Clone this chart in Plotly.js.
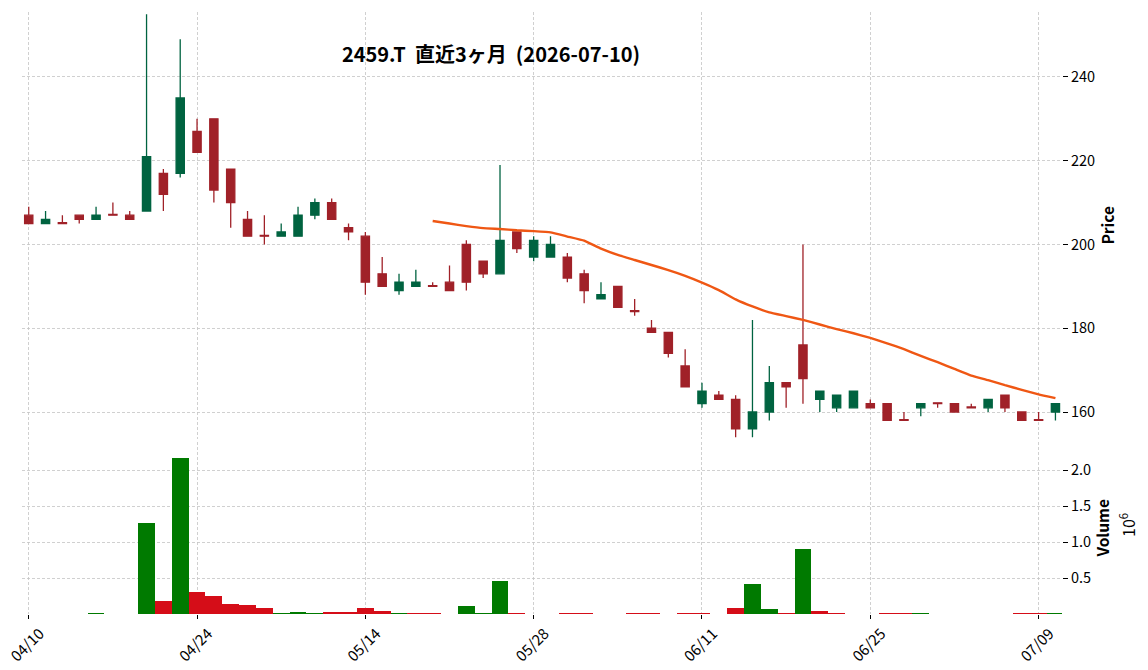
<!DOCTYPE html>
<html>
<head>
<meta charset="utf-8">
<script src="https://cdn.plot.ly/plotly-3.0.1.min.js"></script>
<style>html,body{margin:0;padding:0;background:#fff;}#chart{width:1148px;height:670px;}</style>
</head>
<body>
<div id="chart"></div>
<script>
const dates = ['04/10','04/13','04/14','04/15','04/16','04/17','04/20','04/21','04/22','04/23','04/24','04/27','04/28','04/30',
  '05/01','05/07','05/08','05/11','05/12','05/13','05/14','05/15','05/18','05/19','05/20','05/21','05/22','05/25','05/26','05/27','05/28','05/29',
  '06/01','06/02','06/03','06/04','06/05','06/08','06/09','06/10','06/11','06/12','06/15','06/16','06/17','06/18','06/19','06/22','06/23','06/24','06/25','06/26','06/29','06/30',
  '07/01','07/02','07/03','07/06','07/07','07/08','07/09','07/10'];

const openP  = [207,205,205.2,207,206,207.2,207,208,217,217,227,230,218,206,202.2,202,202,207,210,204,202,193,189,190,190.2,191,200,196,193,203,197,197,
  197,193,187,190,184.2,180,179,171,162,164,163,156,160,167,176,163,161,161,162,162,158.2,161,162.2,162,161.2,161,164,160,158.2,160];
const highP  = [209,208,207,207,209,210,208,255,218,249,230,230,218,208,207,205,209,211,211,205,203,197,193,194,191,195,201,196,219,203,202,202,
  198,194,191,190,187,182,179,175,167,165,164,182,171,167,200,165,164,165,163,162,160,162,162.2,162,162,163,164,160,160,162];
const lowP   = [205,205,205,205,206,207,206,208,208,216,222,210,204,202,200,202,202,206,206,201,188,190,188,190,190,189,189,192,193,198,196,197,
  191,186,187,185,183,179,173,166,161,163,154,154,158,161,162,160,160,161,161,158,158,159,161,160,161,160,160,158,158,158];
const closeP = [205,206,205,206,207,207,206,221,212,235,222,213,210,202,202,203,207,210,206,203,191,190,191,191,190,189,191,193,201,199,201,200,
  192,189,188,185,184,179,174,166,165,163,156,160,167,166,168,165,164,165,161,158,158,162,162,160,161,163,161,158,158,162];
// volume in millions (10^6)
const volume = [0.002,0.002,0.002,0.002,0.012,0.002,0.002,1.26,0.18,2.17,0.31,0.25,0.14,0.125,0.083,0.012,0.028,0.012,0.028,0.028,0.083,0.042,0.012,0.01,0.01,0.002,0.11,0.012,0.46,0.01,0.002,0.002,
  0.01,0.01,0.002,0.002,0.02,0.01,0.002,0.02,0.01,0.002,0.08,0.41,0.065,0.01,0.90,0.037,0.01,0.002,0.002,0.008,0.008,0.02,0.002,0.002,0.002,0.002,0.002,0.02,0.01,0.02];
// 25-day moving average line (starts at 05/20)
const maDates = dates.slice(24);
const maValues = [205.6,205.0,204.4,203.9,203.7,203.4,203.2,202.9,201.9,200.9,199.0,197.5,196.3,195.1,193.9,192.5,190.9,189.1,186.9,185.2,
  183.8,182.9,182.0,180.9,179.8,178.8,177.7,176.4,175.0,173.4,171.9,170.3,168.7,167.6,166.4,165.3,164.2,163.3];

const tickDates = ['04/10','04/24','05/14','05/28','06/11','06/25','07/09'];
const priceTicks = [160,180,200,220,240];
const volTicks = [0.5,1.0,1.5,2.0];
const volTickText = ['0.5','1.0','1.5','2.0'];

const UP = '#006340', DOWN = '#a02128';
const VUP = '#007a00', VDOWN = '#d50d18';
const volColors = volume.map((v,i) => (i > 0 && closeP[i] > closeP[i-1]) ? VUP : VDOWN);

const FONT = '"Noto Sans CJK JP", "Noto Sans", sans-serif';
const GRID = '#c4c4c4';
const DASH = '3px,2px';

const traces = [
  {
    type: 'candlestick', x: dates, open: openP, high: highP, low: lowP, close: closeP,
    xaxis: 'x', yaxis: 'y',
    increasing: {line: {color: UP, width: 1.3}, fillcolor: UP},
    decreasing: {line: {color: DOWN, width: 1.3}, fillcolor: DOWN},
    whiskerwidth: 0, hoverinfo: 'skip', showlegend: false
  },
  {
    type: 'scatter', mode: 'lines', x: maDates, y: maValues, xaxis: 'x', yaxis: 'y',
    line: {color: '#ef5714', width: 2.4, shape: 'spline', smoothing: 0.3}, hoverinfo: 'skip', showlegend: false
  },
  {
    type: 'bar', x: dates, y: volume, xaxis: 'x2', yaxis: 'y2',
    marker: {color: volColors, line: {width: 0}}, width: 1.0, hoverinfo: 'skip', showlegend: false
  }
];

const xcommon = {
  type: 'category', range: [-0.4, 61.39], tickvals: tickDates, showgrid: true,
  gridcolor: GRID, griddash: DASH, gridwidth: 0.8, zeroline: false, showline: false,
  rangeslider: {visible: false}, fixedrange: true
};

const layout = {
  width: 1148, height: 670,
  margin: {l: 22, r: 86, t: 12, b: 56},
  paper_bgcolor: '#ffffff', plot_bgcolor: '#ffffff',
  font: {family: FONT, size: 14, color: '#000'},
  title: {
    text: '<b>2459.T\u00a0\u00a0直近3ヶ月\u00a0\u00a0(2026-07-10)</b>',
    x: 0.4277, xanchor: 'center', xref: 'container',
    y: 0.918, yanchor: 'middle', yref: 'container',
    font: {family: FONT, size: 20, color: '#000'}
  },
  xaxis: Object.assign({}, xcommon, {domain: [0, 1], anchor: 'y', showticklabels: false, ticks: ''}),
  xaxis2: Object.assign({}, xcommon, {
    domain: [0, 1], anchor: 'y2', matches: 'x', showticklabels: true, ticktext: tickDates,
    tickangle: -45, ticks: 'outside', ticklen: 4, tickwidth: 1, tickcolor: '#000',
    ticklabelshift: 11, ticklabelstandoff: 0,
    tickfont: {family: FONT, size: 15, color: '#000'}
  }),
  yaxis: {
    domain: [0.2915, 1], anchor: 'x', side: 'right', range: [153.67, 255.52],
    tickvals: priceTicks, ticks: 'outside', ticklen: 5, tickwidth: 1, tickcolor: '#000',
    showgrid: true, gridcolor: GRID, griddash: DASH, gridwidth: 0.8, zeroline: false, showline: false,
    tickfont: {family: FONT, size: 14.5, color: '#000'},
    title: {text: '<b>Price</b>', font: {family: FONT, size: 15.5, color: '#000'}, standoff: 9},
    fixedrange: true
  },
  yaxis2: {
    domain: [0, 0.2865], anchor: 'x2', side: 'right', range: [0, 2.396],
    tickvals: volTicks, ticktext: volTickText, ticks: 'outside', ticklen: 5, tickwidth: 1, tickcolor: '#000',
    showgrid: true, gridcolor: GRID, griddash: DASH, gridwidth: 0.8, zeroline: false, showline: false,
    tickfont: {family: FONT, size: 14.5, color: '#000'},
    title: {text: '<b>Volume</b>', font: {family: FONT, size: 15.5, color: '#000'}, standoff: 6},
    fixedrange: true
  },
  bargap: 0,
  annotations: [{
    text: '10<sup>6</sup>', xref: 'paper', yref: 'paper', x: 1.0635, y: 0.148,
    textangle: -90, showarrow: false, xanchor: 'center', yanchor: 'middle',
    font: {family: FONT, size: 16, color: '#000'}
  }]
};

Plotly.newPlot('chart', traces, layout, {staticPlot: true, displayModeBar: false});
</script>
</body>
</html>
